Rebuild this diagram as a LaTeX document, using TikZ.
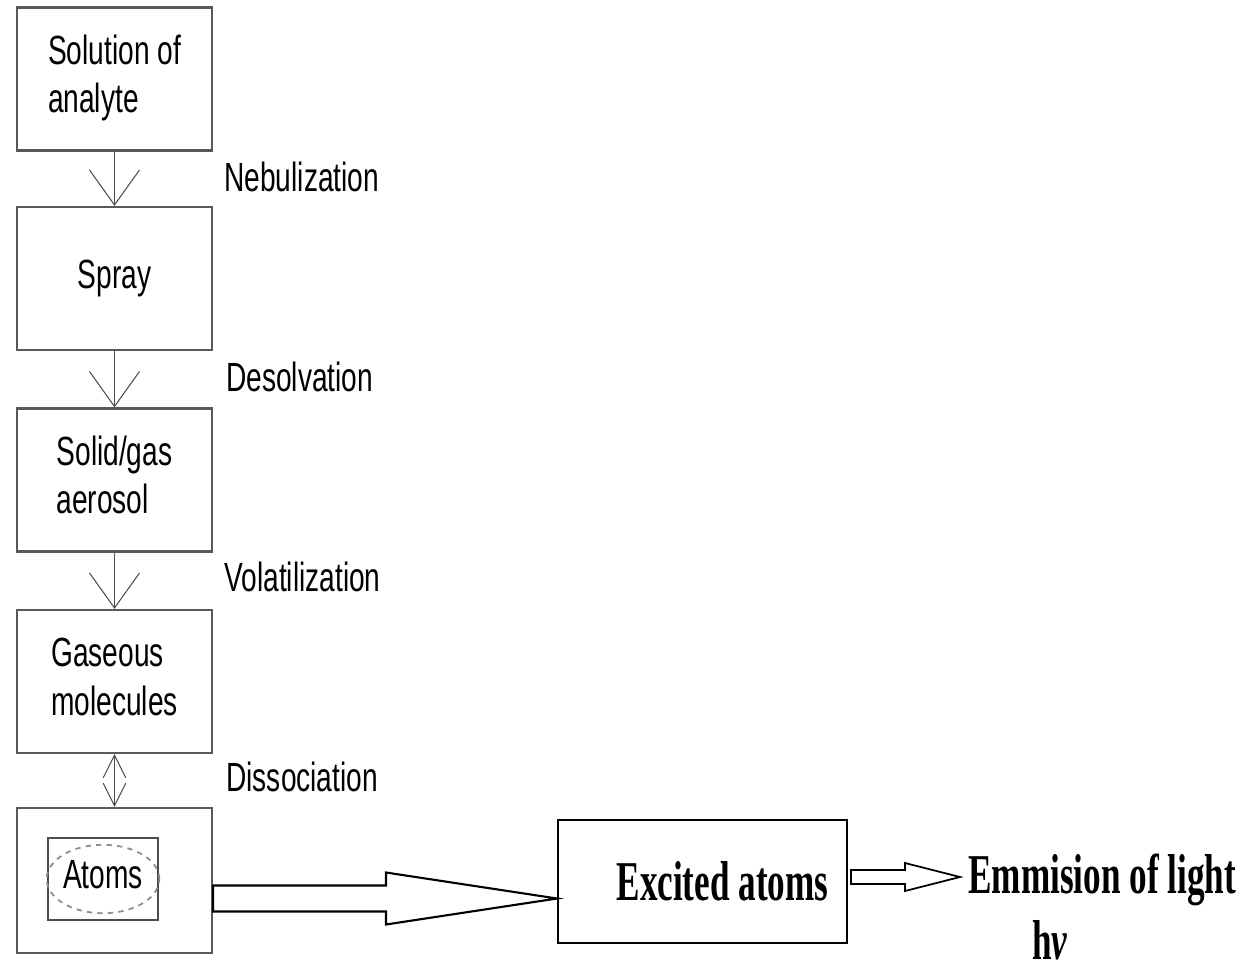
\documentclass[tikz,border=0pt]{standalone}
\usepackage{fontspec}
\setmainfont{Liberation Serif}
\setsansfont{Liberation Sans}
\usepackage{graphicx}
\usetikzlibrary{arrows.meta,positioning,calc,shapes.geometric}

% stretched text, as in the scanned figure
\newcommand{\tallsf}[1]{\scalebox{1}[1.45]{\sffamily\fontsize{16}{19}\selectfont\begin{tabular}{@{}l@{}}#1\end{tabular}}}
\newcommand{\tallrm}[1]{\scalebox{1}[1.6]{\bfseries\fontsize{20}{24}\selectfont #1}}

\begin{document}
\begin{tikzpicture}[
    x=0.02cm, y=-0.02cm,
    >={Straight Barb[length=7mm,width=10mm]},
    stage/.style={draw=black!65, line width=1.3pt, minimum width=3.9cm, minimum height=2.86cm, inner sep=0pt},
    stepname/.style={anchor=west, inner sep=0pt},
    flow/.style={->, draw=black!70, line width=0.6pt},
    hollow/.style={draw=black, line width=1.2pt, fill=white, line join=miter}
]
\useasboundingbox (0,0) rectangle (1247,977);

\node[stage] (sol) at (114.5,79) {\tallsf{Solution of\\analyte}};
\node[stage] (spray) at (114.5,278.5) {\tallsf{Spray}};
\node[stage] (aero) at (114.5,480) {\tallsf{Solid/gas\\aerosol}};
\node[stage] (gas) at (114.5,681.5) {\tallsf{Gaseous\\molecules}};
\node[stage, minimum height=2.9cm] (atoms) at (114.5,880.5) {};
\node[draw=black!70, line width=1pt, minimum width=2.2cm, minimum height=1.64cm] (atomsbox) at (103,879) {};
\node[ellipse, draw=black!45, dashed, line width=1pt, minimum width=1.96cm, minimum height=1.36cm, inner sep=0pt] (atomsring) at (103,879) {\tallsf{Atoms}};

\node[stepname] (neb) at (224,182) {\tallsf{Nebulization}};
\node[stepname] (desolv) at (226,382) {\tallsf{Desolvation}};
\node[stepname] (volat) at (224,582) {\tallsf{Volatilization}};
\node[stepname] (dissoc) at (226,782) {\tallsf{Dissociation}};

\draw[flow] (sol) -- (spray);
\draw[flow] (spray) -- (aero);
\draw[flow] (aero) -- (gas);
\draw[flow, <->, >={Straight Barb[length=4.5mm,width=4.5mm]}] (gas) -- (atoms);

\node[draw, line width=1.2pt, minimum width=5.78cm, minimum height=2.46cm] (excited) at (702.5,881.5) {\hspace*{0.8cm}\tallrm{Excited atoms}};
\node[anchor=west, inner sep=0pt] (emit) at (968,880) {\tallrm{Emmision of light}};
\node[inner sep=0pt] (hnu) at (1050,940) {\tallrm{h\textit{ν}}};

% hollow arrows
\coordinate (bigtail) at ([yshift=-0.36cm]atoms.east);
\coordinate (bigtip) at (excited.west |- bigtail);
\draw[hollow] (bigtail) -- ($(bigtail)+(0,-13)$) -- ($(bigtip)+(-171,-13)$) -- ($(bigtip)+(-171,-26)$) -- (bigtip)
  -- ($(bigtip)+(-171,26)$) -- ($(bigtip)+(-171,13)$) -- ($(bigtail)+(0,13)$) -- cycle;

\coordinate (smalltail) at ([yshift=0.09cm]excited.east);
\coordinate (smalltip) at ($(emit.west |- smalltail)+(-8,0)$);
\draw[hollow, line width=1pt] ($(smalltail)+(3,-7)$) -- ($(smalltip)+(-55,-7)$) -- ($(smalltip)+(-55,-14)$) -- (smalltip)
  -- ($(smalltip)+(-55,14)$) -- ($(smalltip)+(-55,7)$) -- ($(smalltail)+(3,7)$) -- cycle;

\end{tikzpicture}
\end{document}
